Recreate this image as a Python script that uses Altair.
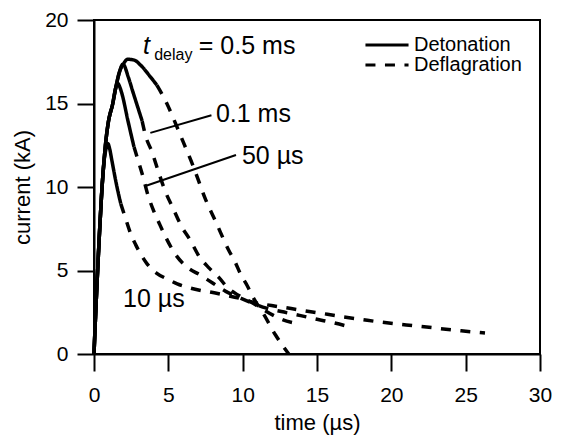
import altair as alt
import pandas as pd

# ---------------- data ----------------
# common steep rise of all discharges (time in µs, current in kA)
rise_t = [0, 0.12, 0.26, 0.42, 0.55, 0.66]
rise_i = [0, 2.6, 5.3, 8.1, 10.1, 11.4]
env_t = [0.78, 0.95, 1.26]
env_i = [12.6, 13.8, 15.0]

# t_delay = 10 µs
d10_solid_t = rise_t + [0.8, 0.93, 1.05, 1.2, 1.5, 1.8]
d10_solid_i = rise_i + [12.25, 12.6, 12.3, 11.6, 10.2, 9.0]
d10_dash_t = [1.8, 2.13, 2.47, 2.8, 3.13, 3.57, 4.2, 4.9, 5.6, 6.4, 7.1, 7.75, 8.74, 9.74,
              10.7, 11.94, 13.26, 14.47, 15.7, 16.8, 18.0, 19.2, 21.0, 22.2, 23.5, 24.7, 26.3]
d10_dash_i = [9.0, 8.1, 7.2, 6.55, 6.0, 5.4, 4.85, 4.5, 4.2, 3.97, 3.82, 3.72, 3.54, 3.35,
              3.1, 2.9, 2.72, 2.54, 2.38, 2.22, 2.07, 1.92, 1.74, 1.63, 1.5, 1.39, 1.26]

# t_delay = 50 µs
d50_solid_t = rise_t + env_t + [1.45, 1.59, 1.75, 1.92, 2.25, 2.69]
d50_solid_i = rise_i + env_i + [15.9, 16.2, 15.95, 15.45, 14.1, 12.4]
d50_dash_t = [2.69, 3.0, 3.3, 3.6, 4.0, 4.4, 4.85, 5.45, 6.2, 7.2, 7.98, 8.86, 9.85,
              10.73, 11.6, 12.6, 13.9, 15.0, 16.1, 17.3]
d50_dash_i = [12.4, 11.5, 10.6, 9.6, 8.6, 7.8, 6.95, 6.0, 5.25, 4.7, 4.25, 3.75, 3.35,
              3.02, 2.75, 2.54, 2.3, 2.08, 1.87, 1.6]

# t_delay = 0.1 ms
d100_solid_t = rise_t + env_t + [1.5, 1.7, 1.95, 2.3, 2.58, 2.9, 3.24]
d100_solid_i = rise_i + env_i + [16.1, 16.85, 17.35, 16.6, 15.8, 14.9, 13.95]
d100_dash_t = [3.24, 3.46, 3.9, 4.34, 4.78, 5.33, 5.88, 6.43, 7.09, 7.75, 8.41, 8.97, 9.74,
               10.73, 11.5, 12.2, 12.6, 13.5]
d100_dash_i = [13.95, 13.1, 12.1, 10.9, 9.77, 8.7, 7.65, 6.88, 5.82, 5.14, 4.57, 3.99, 3.5,
               3.02, 2.6, 2.25, 2.08, 1.85]

# t_delay = 0.5 ms
d500_solid_t = rise_t + env_t + [1.5, 1.7, 2.0, 2.25, 2.7, 3.13, 3.79, 4.23]
d500_solid_i = rise_i + env_i + [16.1, 16.85, 17.4, 17.65, 17.6, 17.3, 16.6, 16.1]
d500_dash_t = [4.23, 4.9, 5.44, 6.0, 6.65, 7.53, 8.2, 9.07, 9.5, 9.85, 10.3, 10.73, 11.4, 12.2, 13.1]
d500_dash_i = [16.1, 15.0, 13.9, 12.7, 11.3, 9.2, 7.9, 6.2, 5.5, 4.8, 4.1, 3.35, 2.4, 1.15, 0.0]

modes = ["Detonation", "Deflagration"]
delays = ["10 µs", "50 µs", "0.1 ms", "0.5 ms"]
series = {
    "10 µs": [(d10_solid_t, d10_solid_i), (d10_dash_t, d10_dash_i)],
    "50 µs": [(d50_solid_t, d50_solid_i), (d50_dash_t, d50_dash_i)],
    "0.1 ms": [(d100_solid_t, d100_solid_i), (d100_dash_t, d100_dash_i)],
    "0.5 ms": [(d500_solid_t, d500_solid_i), (d500_dash_t, d500_dash_i)],
}

# annotation texts and their anchor points (data coordinates)
label_text = ["0.1 ms", "50 µs", "10 µs"]
label_t = [8.2, 9.95, 1.95]
label_i = [13.9, 11.4, 2.83]
leader_t1 = [3.79, 3.46]
leader_i1 = [13.24, 10.06]
leader_t2 = [7.9, 9.55]
leader_i2 = [14.3, 11.92]
title_parts = ["t", "delay", "= 0.5 ms"]
title_t = [3.3, 4.05, 7.05]
title_i = [17.96, 17.62, 17.96]

# ---------------- tables ----------------
rows = []
for d in delays:
    for m, (ts, vs) in zip(modes, series[d]):
        for k, (tv, iv) in enumerate(zip(ts, vs)):
            rows.append({"t": tv, "I": iv, "mode": m, "seg": d + " " + m, "k": k})
df = pd.DataFrame(rows)

lab_df = pd.DataFrame({"text": label_text, "t": label_t, "I": label_i})
lead_df = pd.DataFrame({"t": leader_t1, "I": leader_i1, "t2": leader_t2, "I2": leader_i2})
tit_df = pd.DataFrame({"text": title_parts, "t": title_t, "I": title_i})

FONT = "Liberation Sans"

xscale = alt.Scale(domain=[0, 30], nice=False, zero=False)
yscale = alt.Scale(domain=[0, 20], nice=False, zero=False)

lines = alt.Chart(df).mark_line(
    color="black", strokeWidth=3.5, strokeCap="butt", interpolate="monotone"
).encode(
    x=alt.X("t:Q", scale=xscale, axis=alt.Axis(
        values=[0, 5, 10, 15, 20, 25, 30], title="time (µs)", labelPadding=13,
        titlePadding=7, labelFlush=False, labelOverlap=False)),
    y=alt.Y("I:Q", scale=yscale, axis=alt.Axis(
        values=[0, 5, 10, 15, 20], title="current (kA)", labelPadding=9,
        titlePadding=10, labelFlush=False, labelOverlap=False)),
    detail="seg:N",
    order="k:Q",
    strokeDash=alt.StrokeDash(
        "mode:N",
        scale=alt.Scale(domain=modes, range=[[1, 0], [10, 9.5]]),
        legend=alt.Legend(
            title=None, orient="none", legendX=283, legendY=15, padding=0,
            symbolType="M-4,0L4,0", symbolSize=116, symbolStrokeWidth=3,
            symbolStrokeColor="black", labelFont=FONT, labelFontSize=20,
            labelColor="black", labelOffset=17, rowPadding=0,
        ),
    ),
)

leaders = alt.Chart(lead_df).mark_rule(color="black", strokeWidth=2).encode(
    x="t:Q", y="I:Q", x2="t2:Q", y2="I2:Q"
)

labels = alt.Chart(lab_df).mark_text(
    font=FONT, fontSize=25, color="black", align="left", baseline="alphabetic"
).encode(x="t:Q", y="I:Q", text="text:N")

t_part = alt.Chart(tit_df).transform_filter(alt.datum.text == "t").mark_text(
    font=FONT, fontSize=25, fontStyle="italic", color="black", align="left", baseline="alphabetic"
).encode(x="t:Q", y="I:Q", text="text:N")

sub_part = alt.Chart(tit_df).transform_filter(alt.datum.text == "delay").mark_text(
    font=FONT, fontSize=16, color="black", align="left", baseline="alphabetic"
).encode(x="t:Q", y="I:Q", text="text:N")

rest_part = alt.Chart(tit_df).transform_filter(alt.datum.text == "= 0.5 ms").mark_text(
    font=FONT, fontSize=25, color="black", align="left", baseline="alphabetic"
).encode(x="t:Q", y="I:Q", text="text:N")

chart = alt.layer(lines, leaders, labels, t_part, sub_part, rest_part).properties(
    width=446, height=334,
    autosize=alt.AutoSizeParams(type="none"),
    padding={"left": 86, "top": 12, "right": 16, "bottom": 82},
).configure_view(
    stroke="black", strokeWidth=2
).configure_axis(
    domainColor="black", domainWidth=2, tickColor="black", tickWidth=2, tickSize=17,
    labelFont=FONT, labelFontSize=21, labelColor="black",
    titleFont=FONT, titleFontSize=22, titleFontWeight="normal", titleColor="black",
    grid=False,
)

chart.save("out.html", embed_options={"renderer": "svg", "actions": False})
